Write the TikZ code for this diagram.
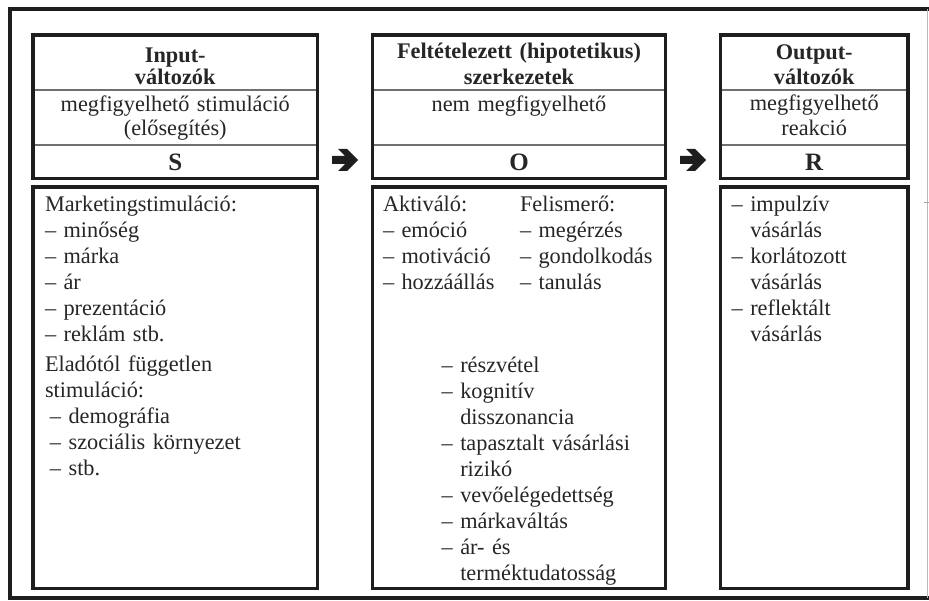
\documentclass[tikz,border=0pt]{standalone}
\usepackage{fontspec}
\setmainfont{Liberation Serif}
\usetikzlibrary{calc}
\definecolor{ink}{HTML}{1E1E1E}
\definecolor{txt}{HTML}{262626}
\definecolor{rulec}{HTML}{707070}
\tikzset{
  bigarrow/.pic={
    \fill[ink] (-13,-4) -- (0,-4) -- (-7,-11) -- (2,-11) -- (13,0) -- (2,11) -- (-7,11) -- (0,4) -- (-13,4) -- cycle;
  }
}
\begin{document}
\begin{tikzpicture}[x=1pt,y=-1pt,
  box/.style={draw=ink, line width=3.8pt, inner sep=0pt, outer sep=0pt, rectangle},
  div/.style={draw=rulec, line width=1.2pt, shorten <=1.9pt, shorten >=1.9pt},
  frame/.style={draw=ink, line width=4pt},
  body/.style={inner sep=0pt, outer sep=0pt, text=txt, font=\fontsize{22.3pt}{26pt}\selectfont, align=left, text width=230pt, anchor=base west},
  head/.style={inner sep=0pt, outer sep=0pt, text=txt, align=center, text width=280pt, anchor=base},
  letter/.style={inner sep=0pt, outer sep=0pt, text=txt, font=\bfseries\fontsize{25pt}{26pt}\selectfont, anchor=base}]
\fill[white] (0,0) rectangle (929,601);
\useasboundingbox (0,0) rectangle (929,601);

% outer frame
\draw[frame] (929,9.5) -- (9.5,9.5) -- (9.5,598) -- (929,598);
\draw[draw=gray!55, line width=0.9pt] (927.3,9.5) -- (927.3,598);
\draw[draw=gray!70, line width=1pt] (924,203) -- (929,203);

% boxes
\node[box, minimum width=284.5pt, minimum height=143.8pt] (Sh) at (175.25,106.6) {};
\node[box, minimum width=284.5pt, minimum height=401.5pt] (Sb) at (175.25,387.75) {};
\node[box, minimum width=293pt, minimum height=143.8pt] (Oh) at (519,106.6) {};
\node[box, minimum width=293pt, minimum height=401.5pt] (Ob) at (519,387.75) {};
\node[box, minimum width=187.5pt, minimum height=143.8pt] (Rh) at (814.25,106.6) {};
\node[box, minimum width=187.5pt, minimum height=401.5pt] (Rb) at (814.25,387.75) {};

% dividers
\foreach \b in {Sh,Oh,Rh}{
  \draw[div] (\b.west |- 0,90) -- (\b.east |- 0,90);
  \draw[div] (\b.west |- 0,145) -- (\b.east |- 0,145);
}

% header texts
\node[head, font=\bfseries\fontsize{22.3pt}{22pt}\selectfont] (St) at (175.25,63) {Input-\\változók};
\node[head, font=\fontsize{22.3pt}{24.5pt}\selectfont] (Ss) at (175.25,111.5) {megfigyelhető stimuláció\\(elősegítés)};
\node[letter] (S) at (175.25,171) {S};

\node[head, font=\bfseries\fontsize{22.3pt}{26pt}\selectfont] (Ot) at (519,59) {Feltételezett (hipotetikus)\\szerkezetek};
\node[head, font=\fontsize{22.3pt}{24.5pt}\selectfont] (Os) at (519,111.5) {nem megfigyelhető};
\node[letter] (O) at (519,171) {O};

\node[head, text width=180pt, font=\bfseries\fontsize{22.3pt}{25pt}\selectfont] (Rt) at (814.25,60) {Output-\\változók};
\node[head, text width=180pt, font=\fontsize{22.3pt}{25pt}\selectfont] (Rs) at (814.25,110.5) {megfigyelhető\\reakció};
\node[letter] (R) at (814.25,171) {R};

% lists
\node[body] (Sl) at (45,212) {Marketingstimuláció:\\– minőség\\– márka\\– ár\\– prezentáció\\– reklám stb.\\[4pt]Eladótól független\\stimuláció:\\\hspace*{5pt}– demográfia\\\hspace*{5pt}– szociális környezet\\\hspace*{5pt}– stb.};

\node[body] (Oa) at (383,212) {Aktiváló:\\– emóció\\– motiváció\\– hozzáállás};
\node[body] (Of) at (520,212) {Felismerő:\\– megérzés\\– gondolkodás\\– tanulás};
\node[body] (Ol) at (441.7,373) {– részvétel\\– kognitív\\\hphantom{– }disszonancia\\– tapasztalt vásárlási\\\hphantom{– }rizikó\\– vevőelégedettség\\– márkaváltás\\– ár- és\\\hphantom{– }terméktudatosság};

\node[body, text width=170pt] (Rl) at (731.7,212) {– impulzív\\\hphantom{– }vásárlás\\– korlátozott\\\hphantom{– }vásárlás\\– reflektált\\\hphantom{– }vásárlás};

% arrows
\path ($(Sh.east)!0.5!(Oh.west)$) coordinate (m1);
\path ($(Oh.east)!0.5!(Rh.west)$) coordinate (m2);
\coordinate (a1) at (m1 |- 0,160);
\coordinate (a2) at (m2 |- 0,160);
\pic at (a1) {bigarrow};
\pic at (a2) {bigarrow};
\end{tikzpicture}
\end{document}
